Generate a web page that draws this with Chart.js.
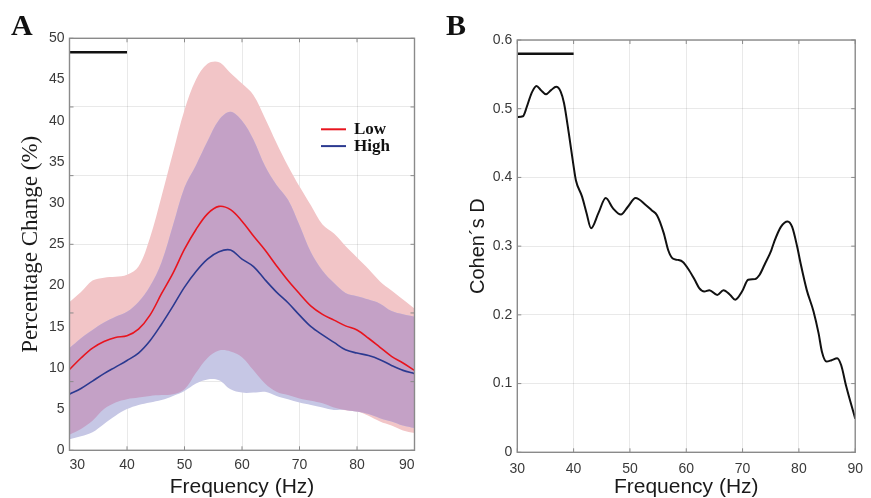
<!DOCTYPE html>
<html>
<head>
<meta charset="utf-8">
<script src="https://cdn.jsdelivr.net/npm/chart.js@4.4.0/dist/chart.umd.min.js"></script>
<style>
html,body{margin:0;padding:0;background:#fff;}
#wrap{position:relative;width:871px;height:498px;overflow:hidden;background:#fff;}
#cA{position:absolute;left:0;top:0;width:435px;height:498px;}
#cB{position:absolute;left:435px;top:0;width:436px;height:498px;}
.pl{position:absolute;font-family:"Liberation Serif","Times New Roman",serif;font-weight:bold;font-size:30px;line-height:30px;color:#111;}
</style>
</head>
<body>
<div id="wrap">
<canvas id="cA" width="435" height="498"></canvas>
<canvas id="cB" width="436" height="498"></canvas>
<div class="pl" style="left:11px;top:10px">A</div>
<div class="pl" style="left:446px;top:10px">B</div>
</div>
<script>
// ---------------- Panel A data ----------------
const freqA = [30,32,34,36,38,40,42,44,46,48,50,52,54,56,58,60,62,64,66,68,70,72,74,76,78,80,82,84,86,88,90];
const lowMean  = [9.8,11.2,12.4,13.2,13.7,13.9,14.7,16.4,19.0,21.5,24.4,26.8,28.7,29.6,29.2,27.8,26.0,24.3,22.4,20.6,19.0,17.5,16.5,15.8,15.1,14.6,13.6,12.5,11.4,10.6,9.7];
const highMean = [6.8,7.5,8.4,9.3,10.1,10.9,11.8,13.3,15.3,17.5,19.8,21.7,23.2,24.1,24.3,23.2,22.3,20.7,19.2,17.9,16.4,15.0,14.0,13.1,12.2,11.8,11.5,11.0,10.3,9.7,9.3];
const lowUpper = [18.0,19.2,20.6,20.95,21.05,21.3,22.3,25.8,30.8,36.1,41.3,45.0,46.9,47.1,45.8,44.5,43.1,40.3,37.3,34.5,32.0,29.7,27.4,26.3,24.8,23.4,22.0,20.5,19.4,18.3,17.2];
const lowLower = [1.9,2.6,3.6,5.0,5.8,6.2,6.4,6.6,6.7,6.8,7.4,9.4,11.2,12.1,12.0,11.3,9.7,8.1,7.1,6.7,6.3,6.0,5.7,5.2,4.85,4.7,4.2,3.5,3.0,2.4,2.1];
const highUpper = [12.4,13.6,14.6,15.5,16.2,16.8,18.0,19.9,22.8,27.3,31.9,34.6,37.5,40.1,41.1,40.0,37.7,34.5,32.2,30.4,27.3,24.0,21.8,20.3,19.1,18.7,18.3,17.8,16.9,16.5,16.2];
const highLower = [1.35,1.7,2.2,3.2,4.2,5.0,5.5,5.8,6.1,6.6,7.2,8.1,8.6,8.5,7.4,7.0,7.0,7.1,6.6,6.2,5.8,5.5,5.2,4.9,4.9,4.7,4.4,3.9,3.5,3.0,2.7];
const sigFreqA = [30,40];
const sigLevelA = 48.3;
const yTicksA = [0,5,10,15,20,25,30,35,40,45,50];
const yGridA = [0,50/6,100/6,150/6,200/6,250/6,50];
const xTicks = [30,40,50,60,70,80,90];
const seriesNames = ['Low','High'];

// ---------------- Panel B data ----------------
const freqB = [30,31,31.7,32.5,33.4,34.2,35.1,36,36.9,37.7,38.3,39.15,40,40.4,41.5,42.3,43.1,44.4,45.7,47,48.4,49.6,51,52.8,53.9,54.8,56,56.8,57.6,58.5,59.4,60.5,61.5,62.3,63.2,64.1,65.5,66.6,67.8,68.7,69.9,71,72.2,73,73.9,75.1,75.6,76.8,78,78.8,79.7,80.3,81.4,82.6,83.5,84.1,84.9,85.8,86.8,87.5,88.4,90];
const cohenD = [0.488,0.489,0.503,0.522,0.533,0.527,0.521,0.527,0.532,0.525,0.508,0.464,0.416,0.396,0.372,0.348,0.326,0.348,0.370,0.355,0.346,0.357,0.370,0.360,0.352,0.345,0.319,0.294,0.282,0.280,0.277,0.265,0.251,0.239,0.234,0.236,0.229,0.236,0.229,0.222,0.234,0.251,0.252,0.258,0.273,0.294,0.306,0.328,0.336,0.328,0.299,0.275,0.236,0.205,0.173,0.146,0.132,0.134,0.137,0.127,0.096,0.049];
const sigFreqB = [30,40];
const sigLevelB = 0.58;
const yTicksB = [0,0.1,0.2,0.3,0.4,0.5,0.6];

// ---------------- helpers ----------------
const pts = (xs, ys) => xs.map((x, i) => ({x: x, y: ys[i]}));
const flat = (xs, v) => xs.map(x => ({x: x, y: v}));
const ovLower = lowLower.map((v, i) => Math.max(v, highLower[i]));
const ovUpper = lowUpper.map((v, i) => Math.min(v, highUpper[i]));

const SANS = "'Liberation Sans', Arial, Helvetica, sans-serif";
const SERIF = "'Liberation Serif', 'Times New Roman', serif";
const GRID = 'rgba(0,0,0,0.085)';
const TICKC = '#3a3a3a';
const NONE = 'rgba(0,0,0,0)';
const TENSION_A = 0.35;

const framePlugin = {
  id: 'frame',
  afterDraw(chart, args, opts) {
    const ctx = chart.ctx, a = chart.chartArea;
    const xs = chart.scales.x, ys = chart.scales[opts.gridAxis];
    ctx.save();
    ctx.strokeStyle = opts.color;
    ctx.lineWidth = 1;
    ctx.beginPath();
    xs.ticks.forEach(t => {
      const px = xs.getPixelForValue(t.value);
      ctx.moveTo(px, a.bottom); ctx.lineTo(px, a.bottom - opts.len);
      ctx.moveTo(px, a.top); ctx.lineTo(px, a.top + opts.len);
    });
    ys.ticks.forEach(t => {
      const py = ys.getPixelForValue(t.value);
      ctx.moveTo(a.left, py); ctx.lineTo(a.left + opts.len, py);
      ctx.moveTo(a.right, py); ctx.lineTo(a.right - opts.len, py);
    });
    ctx.stroke();
    ctx.lineWidth = opts.width;
    ctx.strokeRect(a.left, a.top, a.right - a.left, a.bottom - a.top);
    ctx.restore();
  }
};

const legendPlugin = {
  id: 'legendBox',
  afterDraw(chart, args, opts) {
    if (!opts.show) return;
    const ctx = chart.ctx;
    ctx.save();
    chart.data.datasets.forEach(ds => {
      if (ds.legendRow === undefined) return;
      const y = opts.y0 + ds.legendRow * opts.dy;
      ctx.strokeStyle = ds.borderColor;
      ctx.lineWidth = 2;
      ctx.beginPath();
      ctx.moveTo(opts.x0, y); ctx.lineTo(opts.x0 + opts.lineLen, y);
      ctx.stroke();
      ctx.fillStyle = '#111';
      ctx.font = 'bold 17px ' + SERIF;
      ctx.textBaseline = 'alphabetic';
      ctx.textAlign = 'left';
      ctx.fillText(ds.label, opts.x0 + opts.lineLen + 8, y + 4.5);
    });
    ctx.restore();
  }
};

const bandDs = (label, data, fillTarget, color) => ({
  label: label, data: data, borderColor: NONE, borderWidth: 0, backgroundColor: color,
  fill: fillTarget, pointRadius: 0, tension: TENSION_A
});

// ---------------- Chart A ----------------
new Chart(document.getElementById('cA'), {
  type: 'line',
  plugins: [framePlugin, legendPlugin],
  data: {
    datasets: [
      {label: seriesNames[1], legendRow: 1, data: pts(freqA, highMean), borderColor: '#2b3990', borderWidth: 1.6, pointRadius: 0, fill: false, tension: TENSION_A},
      {label: seriesNames[0], legendRow: 0, data: pts(freqA, lowMean), borderColor: '#e8141e', borderWidth: 1.6, pointRadius: 0, fill: false, tension: TENSION_A},
      {label: 'sig', data: flat(sigFreqA, sigLevelA), borderColor: '#111', borderWidth: 2.5, pointRadius: 0, fill: false, tension: 0},
      bandDs('overlap upper', pts(freqA, ovUpper), 4, '#c4a1c6'),
      bandDs('overlap lower', pts(freqA, ovLower), false, NONE),
      bandDs('High upper', pts(freqA, highUpper), 6, '#c6c7e5'),
      bandDs('High lower', pts(freqA, highLower), false, NONE),
      bandDs('Low upper', pts(freqA, lowUpper), 8, '#f2c5c7'),
      bandDs('Low lower', pts(freqA, lowLower), false, NONE)
    ]
  },
  options: {
    responsive: false, animation: false, devicePixelRatio: 1,
    layout: {padding: {left: 0, right: 20.5, top: 38.3, bottom: 0}},
    plugins: {
      legend: {display: false}, tooltip: {enabled: false},
      frame: {gridAxis: 'yg', color: '#8a8a8a', width: 1.4, len: 4},
      legendBox: {show: true, x0: 321, y0: 129.3, dy: 16.8, lineLen: 25}
    },
    scales: {
      x: {
        type: 'linear', min: 30, max: 90, z: 1,
        afterFit: s => { s.height = 47.7; },
        afterBuildTicks: s => { s.ticks = xTicks.map(v => ({value: v})); },
        ticks: {align: 'inner', padding: 6, font: {family: SANS, size: 14}, color: TICKC},
        grid: {color: GRID, drawTicks: false}, border: {display: false},
        title: {display: true, text: 'Frequency (Hz)', color: '#1a1a1a', font: {family: SANS, size: 21, lineHeight: 1}, padding: {top: 0, bottom: 0}}
      },
      y: {
        type: 'linear', min: 0, max: 50, position: 'left',
        afterFit: s => { s.width = 69.5; },
        afterBuildTicks: s => { s.ticks = yTicksA.map(v => ({value: v})); },
        ticks: {padding: 5, font: {family: SANS, size: 14}, color: TICKC},
        grid: {display: false, drawTicks: false}, border: {display: false},
        title: {display: true, text: 'Percentage Change (%)', color: '#1a1a1a', font: {family: SERIF, size: 23, lineHeight: 1}, padding: {top: 19.5, bottom: 0}}
      },
      yg: {
        type: 'linear', min: 0, max: 50, position: 'right', z: 1,
        afterFit: s => { s.width = 0; },
        afterBuildTicks: s => { s.ticks = yGridA.map(v => ({value: v})); },
        ticks: {display: false},
        grid: {color: GRID, drawTicks: false}, border: {display: false}
      }
    }
  }
});

// ---------------- Chart B ----------------
new Chart(document.getElementById('cB'), {
  type: 'line',
  plugins: [framePlugin],
  data: {
    datasets: [
      {label: "Cohen´s D", data: pts(freqB, cohenD), borderColor: '#111', borderWidth: 2, pointRadius: 0, fill: false, cubicInterpolationMode: 'monotone'},
      {label: 'sig', data: flat(sigFreqB, sigLevelB), borderColor: '#111', borderWidth: 2.5, pointRadius: 0, fill: false, tension: 0}
    ]
  },
  options: {
    responsive: false, animation: false, devicePixelRatio: 1,
    layout: {padding: {left: 0, right: 8.3, top: 40, bottom: 0}},
    plugins: {
      legend: {display: false}, tooltip: {enabled: false},
      frame: {gridAxis: 'y', color: '#8a8a8a', width: 1.4, len: 4}
    },
    scales: {
      x: {
        type: 'linear', min: 30, max: 90, z: 1,
        afterFit: s => { s.height = 45.7; },
        afterBuildTicks: s => { s.ticks = xTicks.map(v => ({value: v})); },
        ticks: {padding: 8, font: {family: SANS, size: 14}, color: TICKC},
        grid: {color: GRID, drawTicks: false}, border: {display: false},
        title: {display: true, text: 'Frequency (Hz)', color: '#1a1a1a', font: {family: SANS, size: 21, lineHeight: 1}, padding: {top: 0, bottom: 0}}
      },
      y: {
        type: 'linear', min: 0, max: 0.6, position: 'left', z: 1,
        afterFit: s => { s.width = 82.3; },
        afterBuildTicks: s => { s.ticks = yTicksB.map(v => ({value: v})); },
        ticks: {padding: 5, font: {family: SANS, size: 14}, color: TICKC},
        grid: {color: GRID, drawTicks: false}, border: {display: false},
        title: {display: true, text: 'Cohen´s D', color: '#1a1a1a', font: {family: SANS, size: 20, lineHeight: 1}, padding: {top: 33.6, bottom: 0}}
      }
    }
  }
});
</script>
</body>
</html>
